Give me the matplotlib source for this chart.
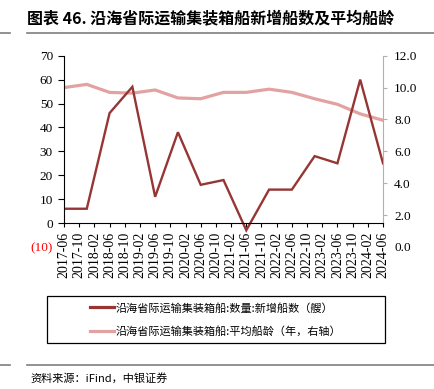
import numpy as np
import matplotlib
matplotlib.use('Agg')
import matplotlib.pyplot as plt
from matplotlib.patches import Rectangle
from matplotlib.lines import Line2D

# semiannual data points, 2017-06 .. 2024-06
dates = ['2017-06', '2017-12', '2018-06', '2018-12', '2019-06', '2019-12', '2020-06', '2020-12',
         '2021-06', '2021-12', '2022-06', '2022-12', '2023-06', '2023-12', '2024-06']
new_ships = [6, 6, 46, 57, 11, 38, 16, 18, -3, 14, 14, 28, 25, 60, 25]
avg_age = [10.0, 10.2, 9.7, 9.65, 9.85, 9.35, 9.3, 9.7, 9.7, 9.9, 9.7, 9.3, 8.95, 8.35, 7.95]

tick_labels = ['2017-06', '2017-10', '2018-02', '2018-06', '2018-10', '2019-02', '2019-06', '2019-10',
               '2020-02', '2020-06', '2020-10', '2021-02', '2021-06', '2021-10', '2022-02', '2022-06',
               '2022-10', '2023-02', '2023-06', '2023-10', '2024-02', '2024-06']

left_ticks = [-10, 0, 10, 20, 30, 40, 50, 60, 70]
left_labels = ['(10)', '0', '10', '20', '30', '40', '50', '60', '70']
right_ticks = [0, 2, 4, 6, 8, 10, 12]

label1 = '沿海省际运输集装箱船:数量:新增船数（艘）'
label2 = '沿海省际运输集装箱船:平均船龄（年，右轴）'

DARK = '#963634'
LIGHT = '#E3A2A2'
serif = ['Liberation Serif', 'DejaVu Serif']
cjk = ['Noto Sans CJK SC', 'DejaVu Sans']


def month_index(s):
    y, m = s.split('-')
    return (int(y) - 2017) * 12 + int(m) - 6


x_data = [month_index(d) for d in dates]
x_ticks = [month_index(t) for t in tick_labels]

fig = plt.figure(figsize=(4.34, 3.89), dpi=100)
ax = fig.add_axes([64 / 434, 1 - 247 / 389, 319 / 434, 191.3 / 389])
# move the x axis to y=0 first (this resets the tick objects)
ax.spines['bottom'].set_position(('data', 0))
ax2 = ax.twinx()

# right axis line (pale, average age)
ax2.plot(x_data, avg_age, color=LIGHT, lw=2.3, solid_joinstyle='miter')
ax2.set_ylim(0, 12)
ax2.set_yticks(right_ticks)
ax2.set_yticklabels(['%.1f' % v for v in right_ticks], fontfamily=serif, fontsize=9.5)
ax2.tick_params(axis='y', direction='out', length=3, width=0.8, color='#b0b0b0', pad=5)
ax2.yaxis.get_major_ticks()[0].tick2line.set_visible(False)
for s in ['top', 'left', 'bottom']:
    ax2.spines[s].set_visible(False)
ax2.spines['right'].set_color('#b0b0b0')
ax2.spines['right'].set_bounds(1.5, 12)

ax.set_zorder(ax2.get_zorder() + 1)
ax.patch.set_visible(False)
ax.plot(x_data, new_ships, color=DARK, lw=1.7, solid_joinstyle='miter')
ax.set_ylim(-10, 70)
ax.set_xlim(0, 84)
ax.set_yticks(left_ticks)
ax.set_yticklabels(left_labels, fontfamily=serif, fontsize=9.5)
ax.get_yticklabels()[0].set_color('red')
ax.yaxis.get_major_ticks()[0].tick1line.set_visible(False)
ax.tick_params(axis='y', direction='out', length=4, width=0.8, pad=4)
ax.set_xticks(x_ticks)
ax.set_xticklabels(tick_labels, rotation=90, fontfamily=serif, fontsize=10)
ax.tick_params(axis='x', direction='out', length=3, width=0.8, pad=3)
ax.spines['left'].set_bounds(0, 70)
ax.spines['top'].set_visible(False)
ax.spines['right'].set_visible(False)

# title and rules
fig.text(27 / 434, 1 - 18 / 389, '图表 46. 沿海省际运输集装箱船新增船数及平均船龄',
         fontfamily=cjk, fontsize=11.5, fontweight='bold', va='center', ha='left')
for y in (33, 365):
    fig.add_artist(Line2D([27 / 434, 1], [1 - y / 389] * 2, color='#7f7f7f', lw=1.2))
    fig.add_artist(Line2D([0, 10 / 434], [1 - y / 389] * 2, color='#7f7f7f', lw=1.2))

# legend with a wide box
fig.add_artist(Rectangle((47 / 434, 1 - 343 / 389), 338 / 434, 47 / 389,
                         fill=False, edgecolor='black', lw=0.9, transform=fig.transFigure))
handles = [Line2D([], [], color=DARK, lw=2.3), Line2D([], [], color=LIGHT, lw=2.3)]
fig.legend(handles, [label1, label2], loc='center', bbox_to_anchor=(216 / 434, 1 - 319.5 / 389),
           frameon=False, prop={'family': cjk, 'size': 8}, handlelength=2.1, handletextpad=0.2,
           labelspacing=1.1)

fig.text(30 / 434, 1 - 378 / 389, '资料来源：iFind，中银证券', fontfamily=cjk, fontsize=8,
         style='italic', va='center', ha='left')

fig.savefig('out.png', dpi=100)
